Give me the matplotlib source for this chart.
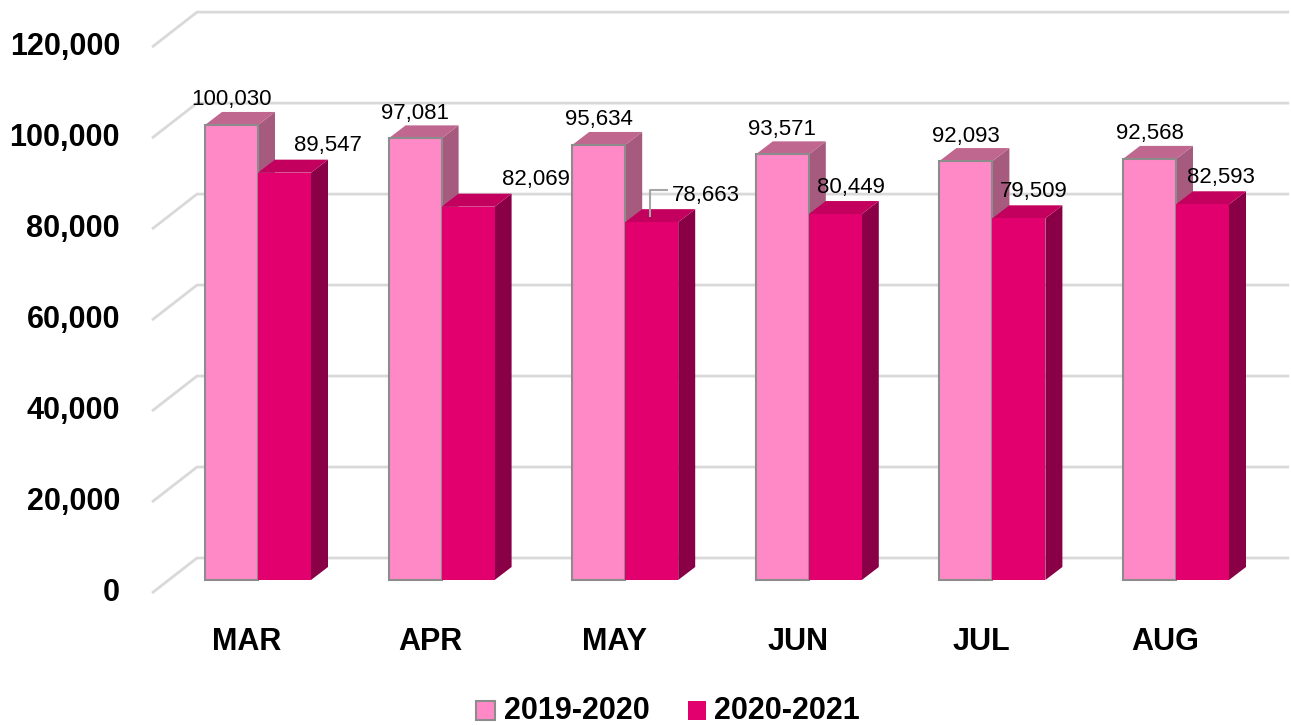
import matplotlib
matplotlib.use("Agg")
import matplotlib.pyplot as plt
from matplotlib.patches import Polygon, Rectangle
import numpy as np

months = ['MAR', 'APR', 'MAY', 'JUN', 'JUL', 'AUG']
series_names = ['2019-2020', '2020-2021']
vals_1920 = [100030, 97081, 95634, 93571, 92093, 92568]
vals_2021 = [89547, 82069, 78663, 80449, 79509, 82593]
yticks = [0, 20000, 40000, 60000, 80000, 100000, 120000]

# label placement tweaks for the 2020-2021 values (pixels, right of bar centre)
lab_dx = [43, 68, 54, 16, 15, 18]

pink = ['#FF88C6', '#C0678F', '#A65A7E']     # front, top, side
mag = ['#E2006E', '#C4005E', '#8A0046']

bold = dict(family=['Liberation Sans', 'DejaVu Sans'], weight='bold')
reg = dict(family=['Liberation Sans', 'DejaVu Sans'])

W, H = 1291, 725
fig = plt.figure(figsize=(W / 100, H / 100), dpi=100)
ax = fig.add_axes([0, 0, 1, 1])
ax.axis('off')

k = 0.004549          # px per unit
step = 183.6          # px per category
ax.set_ylim(-(H - 580) / k, 580 / k)
ax.set_xlim(-258 / step, (W - 258) / step)

px_x = 1 / step
px_y = 1 / k
bw = 53 * px_x
dx, dy = 17 * px_x, 13 * px_y
back_dy = 22 * px_y
front_dy = -13 * px_y

# back wall gridlines with diagonal on left side wall
for v in yticks:
    xs = [-106 * px_x, -61 * px_x, (W - 258) / step - 0.01]
    ys = [v + front_dy, v + back_dy, v + back_dy]
    ax.plot(xs, ys, color='#D9D9D9', lw=2, zorder=0, solid_capstyle='butt')
    ax.text(120 / W, v + front_dy, f'{v:,}', transform=ax.get_yaxis_transform(),
            ha='right', va='center', fontsize=22, **bold)

x = np.arange(len(months))


def bar3d(x0, h, cols, edge):
    x1 = x0 + bw
    ax.add_patch(Polygon([(x1, 0), (x1 + dx, dy), (x1 + dx, h + dy), (x1, h)],
                         closed=True, fc=cols[2], ec='none', zorder=2))
    ax.add_patch(Polygon([(x0, h), (x1, h), (x1 + dx, h + dy), (x0 + dx, h + dy)],
                         closed=True, fc=cols[1], ec='none', zorder=2))
    ax.bar(x0, h, width=bw, align='edge', color=cols[0],
           edgecolor=edge, linewidth=1.5 if edge != 'none' else 0, zorder=2)


for i in x:
    bar3d(i - bw, vals_1920[i], pink, '#8C8C8C')
    bar3d(i, vals_2021[i], mag, 'none')
    ax.text(i - bw / 2, vals_1920[i] + 25 * px_y, f'{vals_1920[i]:,}',
            ha='center', va='center', fontsize=16, **reg, zorder=5)
    lx = i + bw / 2 + lab_dx[i] * px_x
    ax.text(lx, vals_2021[i] + 27 * px_y, f'{vals_2021[i]:,}',
            ha='center', va='center', fontsize=16, **reg, zorder=5)
    ax.text(i - 11 * px_x, -62 * px_y, months[i], ha='center', va='center',
            fontsize=22, **bold)

# leader line for the MAY label
i = 2
ax.plot([i + bw / 2 - 0.01, i + bw / 2 - 0.01, i + bw / 2 + 15 * px_x],
        [vals_2021[i] + 6 * px_y, vals_2021[i] + 32 * px_y, vals_2021[i] + 32 * px_y],
        color='#A6A6A6', lw=1.5, zorder=4)

# legend
fig.patches.append(Rectangle((476 / W, 1 - 720 / H), 19 / W, 19 / H, transform=fig.transFigure,
                             fc=pink[0], ec='#8C8C8C', lw=1.5))
fig.text(504 / W, 1 - 711 / H, series_names[0], ha='left', va='center', fontsize=22, **bold)
fig.patches.append(Rectangle((688 / W, 1 - 720 / H), 18 / W, 19 / H, transform=fig.transFigure,
                             fc=mag[0], ec='none'))
fig.text(714 / W, 1 - 711 / H, series_names[1], ha='left', va='center', fontsize=22, **bold)

fig.savefig('out.png', dpi=100)
